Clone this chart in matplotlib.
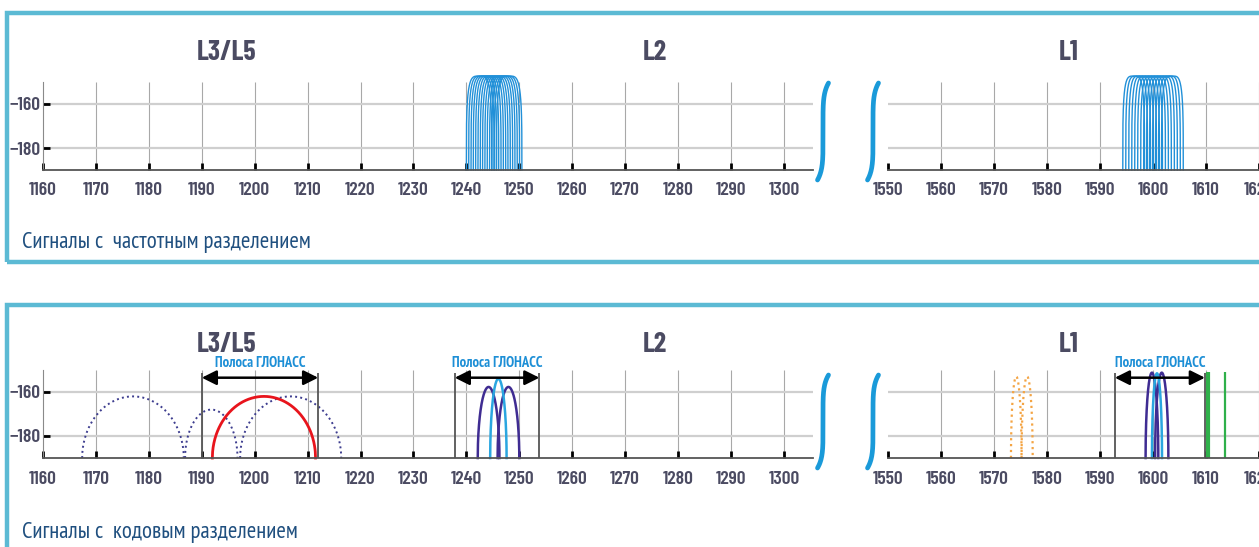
import numpy as np
from matplotlib import pyplot as plt
from matplotlib import font_manager
from matplotlib.ft2font import FT2Font
from matplotlib.patches import Rectangle

# narrow face with Cyrillic and a bold weight, if one is installed
fl = font_manager.fontManager.ttflist
have = {f.name for f in fl}


def cyr(path):
    try:
        return FT2Font(path).get_char_index(0x0421) != 0
    except Exception:
        return False


prefs = ['PT Sans Narrow', 'Roboto Condensed', 'Fira Sans Extra Condensed', 'Fira Sans Condensed',
         'Open Sans Condensed', 'Noto Sans Condensed', 'IBM Plex Sans Condensed',
         'Ubuntu Condensed', 'Liberation Sans Narrow', 'Archivo Narrow', 'Encode Sans Condensed',
         'Barlow Condensed', 'Asap Condensed', 'Cabin Condensed']
base, stretch = 'DejaVu Sans', 'condensed'
for n in prefs:
    fs = [f for f in fl if f.name == n]
    if fs and all(cyr(f.fname) for f in fs) and any(f.weight in (600, 700, 'bold') for f in fs):
        base, stretch = n, 'normal'
        break
plt.rcParams['font.family'] = [base, 'DejaVu Sans']
plt.rcParams['font.stretch'] = stretch
k = 1.0 if base != 'DejaVu Sans' else 0.85
# lining digits for ticks and band names
latin = next((n for n in ['Barlow Condensed', 'Asap Condensed', 'Archivo Narrow'] if n in have), base)
latin_fam = [latin, base, 'DejaVu Sans']

# x ticks of the two frequency windows (MHz)
left_ticks = [1160, 1170, 1180, 1190, 1200, 1210, 1220, 1230, 1240, 1250, 1260, 1270, 1280, 1290, 1300]
right_ticks = [1550, 1560, 1570, 1580, 1590, 1600, 1610, 1620]
y_ticks = [-160, -180]
band_names = ['L3/L5', 'L2', 'L1']

# FDMA channel centres (MHz), half-width and top level (dBW)
l2_fdma = [1242.4, 1242.84, 1243.28, 1243.71, 1244.15, 1244.59, 1245.03,
           1245.46, 1245.9, 1246.34, 1246.78, 1247.21, 1247.65, 1248.09]
l1_fdma = [1596.35, 1596.91, 1597.48, 1598.04, 1598.6, 1599.16, 1599.73,
           1600.29, 1600.85, 1601.41, 1601.98, 1602.54, 1603.1, 1603.66]
l2_fdma_hw = 2.4
l1_fdma_hw = 2.05
fdma_top = -147.3

# CDMA lobes: centre, half-width, peak
dotted_navy = [(1177.0, 9.6, -162), (1191.8, 4.95, -168), (1206.8, 9.55, -162)]
red_lobe = [(1201.75, 9.75, -162)]
navy_lobes = [(1244.2, 2.05, -157.7), (1247.95, 2.05, -157.7), (1599.8, 1.2, -151.2), (1601.65, 1.25, -151.2)]
cyan_lobes = [(1246.05, 1.55, -154), (1600.75, 0.95, -151.5)]
orange_lobes = [(1574.2, 1.0, -153), (1576.25, 1.05, -153)]
green_lines = [1610.3, 1613.6]
glonass_bands = [(1190, 1212), (1237.8, 1253.8), (1592.8, 1609.8)]

W, H = 1259, 547
fig = plt.figure(figsize=(W / 100, H / 100), dpi=100)
txt = '#4b4b62'
cyan = '#5cbad4'
tick_fs = 14 * k
title_fs = 20 * k
cap_fs = 16.5 * k
band_fs = 10.5 * k


def px(x, y):
    return x / W, 1 - y / H


def setup(ax, ticks, xlim, left):
    ax.set_xlim(*xlim)
    ax.set_ylim(-190, -150)
    ax.set_xticks(ticks)
    ax.set_yticks(y_ticks)
    ax.vlines(ticks[1:], -190, -150, color='#a8a8a8', lw=0.8, zorder=0)
    ax.grid(axis='y', color='#cfcfcf', lw=1.6)
    ax.set_axisbelow(True)
    for s in ['top', 'right']:
        ax.spines[s].set_visible(False)
    ax.spines['bottom'].set_color('#555555')
    ax.spines['bottom'].set_linewidth(1.3)
    ax.spines['left'].set_color('#8a8a8a')
    ax.spines['left'].set_linewidth(0.8)
    ax.tick_params(axis='x', direction='in', length=5, width=2, color='black',
                   labelsize=tick_fs, labelcolor=txt, pad=9)
    ax.tick_params(axis='y', direction='in', length=5, width=2, color='black',
                   labelsize=tick_fs, labelcolor=txt, pad=2)
    for lab in ax.get_xticklabels() + ax.get_yticklabels():
        lab.set_fontweight('semibold')
        lab.set_family(latin_fam)
    if not left:
        ax.spines['left'].set_visible(False)
        ax.tick_params(axis='y', left=False, labelleft=False)


def arch(ax, c, hw, peak, p=2.0, **kw):
    t = np.linspace(-1, 1, 400)
    y = -190 + (peak + 190) * (1 - np.abs(t) ** p) ** (1 / p)
    ax.plot(c + hw * t, y, clip_on=False, **kw)


def brace(x, y0, y1):
    t = np.linspace(0, 1, 200)
    xs = x - 5.5 * (2 * t - 1) ** 5
    ys = y0 + (y1 - y0) * t
    fig.add_artist(plt.Line2D(xs / W, 1 - ys / H, color='#1a9ad9', lw=3.4,
                              solid_capstyle='round'))


panels = []
for bottom_px in (170, 458):
    axl = fig.add_axes([43 / W, 1 - bottom_px / H, 770 / W, 88 / H])
    axr = fig.add_axes([888 / W, 1 - bottom_px / H, 371 / W, 88 / H])
    setup(axl, left_ticks, (1160, 1305.5), True)
    setup(axr, right_ticks, (1550, 1620), False)
    panels.append((axl, axr))

# frequency division panel
axl, axr = panels[0]
for c in l2_fdma:
    arch(axl, c, l2_fdma_hw, fdma_top, p=4, color='#2190d8', lw=1)
for c in l1_fdma:
    arch(axr, c, l1_fdma_hw, fdma_top, p=4, color='#2190d8', lw=1)

# code division panel
axl, axr = panels[1]
for c, hw, pk in dotted_navy:
    arch(axl, c, hw, pk, color='#3d3d8f', lw=1.4, ls=':')
for c, hw, pk in red_lobe:
    arch(axl, c, hw, pk, color='#e8141c', lw=2)
for c, hw, pk in navy_lobes:
    arch(axl if c < 1400 else axr, c, hw, pk, color='#3f2c92', lw=1.8)
for c, hw, pk in cyan_lobes:
    arch(axl if c < 1400 else axr, c, hw, pk, color='#2aa6e0', lw=1.8)
for c, hw, pk in orange_lobes:
    arch(axr, c, hw, pk, color='#f4a443', lw=1.6, ls=':')
axr.vlines(green_lines, -190, -151, color='#2fb04a', lw=[3, 1.6])
for x0, x1 in glonass_bands:
    ax = axl if x0 < 1400 else axr
    ax.vlines([x0, x1], -190, -151.5, color='#555555', lw=1.3, clip_on=False)
    ax.annotate('', xy=(x1, -153.5), xytext=(x0, -153.5), annotation_clip=False,
                arrowprops=dict(arrowstyle='<|-|>', color='black', lw=1.8,
                                mutation_scale=22, shrinkA=0, shrinkB=0))
    ax.text((x0 + x1) / 2, -146.8, 'Полоса ГЛОНАСС', ha='center', va='center',
            color='#1d8fd6', fontsize=band_fs, fontweight='bold', clip_on=False)

# band names, captions, breaks, frames
for y_name, y_cap, caption, y_br in [(52, 248, 'Сигналы с  частотным разделением', (83, 180)),
                                     (344, 538, 'Сигналы с  кодовым разделением', (375, 468))]:
    for name, x in zip(band_names, [227, 655, 1069]):
        fig.text(*px(x, y_name), name, ha='center', va='center', fontsize=title_fs,
                 fontweight='bold', color=txt, family=latin_fam)
    fig.text(*px(22, y_cap), caption, ha='left', va='baseline', fontsize=cap_fs,
             color='#1f4f7f')
    brace(823, *y_br)
    brace(873, *y_br)

fig.add_artist(Rectangle(px(7, 262), 1300 / W, 249 / H, fill=False,
                         edgecolor=cyan, lw=3.2, transform=fig.transFigure))
fig.add_artist(Rectangle(px(7, 600), 1300 / W, 295 / H, fill=False,
                         edgecolor=cyan, lw=3.2, transform=fig.transFigure))

fig.savefig('out.png', dpi=100)
